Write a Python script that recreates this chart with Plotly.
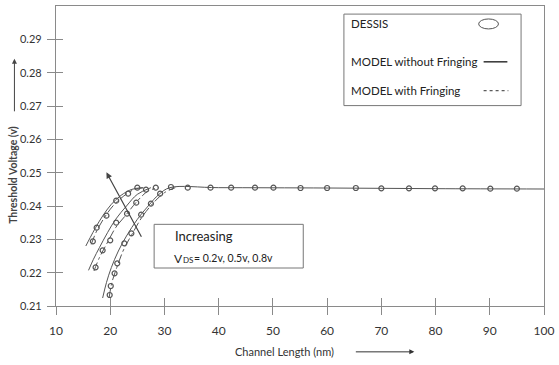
import plotly.graph_objects as go

# ---------------- data ----------------
# Curve group A (leftmost)
LA_model = [15.5, 16.3, 17.3, 18.6, 20.2, 22.0, 24.0, 26.0]
VA_model = [0.2280, 0.2305, 0.2335, 0.2370, 0.2405, 0.2432, 0.2450, 0.2455]
LA_fring = [16.5, 17.5, 18.8, 20.5, 22.5, 24.5, 26.5]
VA_fring = [0.2285, 0.2325, 0.2362, 0.2400, 0.2430, 0.2450, 0.2455]
LA_dessis = [16.8, 17.5, 19.3, 21.1, 23.3, 25.0]
VA_dessis = [0.2294, 0.2335, 0.2371, 0.2416, 0.2437, 0.2455]

# Curve group B (middle)
LB_model = [16.0, 16.9, 18.0, 19.5, 21.0, 23.0, 25.0, 27.5]
VB_model = [0.2207, 0.2240, 0.2275, 0.2320, 0.2360, 0.2400, 0.2435, 0.2455]
LB_fring = [17.0, 18.0, 19.3, 21.0, 23.0, 25.0, 27.0, 29.0]
VB_fring = [0.2205, 0.2245, 0.2285, 0.2335, 0.2375, 0.2415, 0.2445, 0.2455]
LB_dessis = [17.3, 18.6, 20.0, 21.1, 23.1, 24.8, 26.6, 28.4]
VB_dessis = [0.2216, 0.2267, 0.2297, 0.2350, 0.2377, 0.2410, 0.2449, 0.2455]

# Curve group C (rightmost) + long-channel plateau
LC_model = [18.6, 19.3, 20.2, 21.5, 23.0, 25.0, 27.0, 29.0, 31.0, 40.0, 60.0, 80.0, 100.0]
VC_model = [0.2124, 0.2170, 0.2215, 0.2265, 0.2310, 0.2360, 0.2400, 0.2435, 0.2455,
            0.2455, 0.2454, 0.2452, 0.2451]
LC_fring = [19.8, 20.3, 21.2, 22.5, 24.0, 26.0, 28.0, 30.0, 32.0]
VC_fring = [0.2125, 0.2170, 0.2215, 0.2270, 0.2315, 0.2370, 0.2410, 0.2440, 0.2455]
LC_dessis = [19.9, 20.1, 20.8, 21.3, 22.6, 23.9, 25.7, 27.5, 29.2, 31.2,
             34.3, 38.5, 42.3, 46.7, 50.1, 55.1, 60.0, 65.3, 70.0, 75.1, 79.9, 85.0, 90.1, 95.0]
VC_dessis = [0.2133, 0.2160, 0.2198, 0.2228, 0.2288, 0.2318, 0.2374, 0.2407, 0.2437, 0.2457,
             0.2455, 0.2455, 0.2455, 0.2455, 0.2455, 0.2454, 0.2454, 0.2454, 0.2453, 0.2453,
             0.2453, 0.2453, 0.2452, 0.2452]

x_ticks = [10, 20, 30, 40, 50, 60, 70, 80, 90, 100]
y_ticks = [0.21, 0.22, 0.23, 0.24, 0.25, 0.26, 0.27, 0.28, 0.29]

LINE = "#555555"
AX = "#8a8a8a"
TXT = "#333333"
FONT = "Lato"

fig = go.Figure()

def model(x, y):
    fig.add_trace(go.Scatter(x=x, y=y, mode="lines", line=dict(color=LINE, width=1, shape="spline"),
                             showlegend=False, hoverinfo="skip"))

def fring(x, y):
    fig.add_trace(go.Scatter(x=x, y=y, mode="lines", line=dict(color=LINE, width=1, dash="dashdot", shape="spline"),
                             showlegend=False, hoverinfo="skip"))

def dessis(x, y):
    fig.add_trace(go.Scatter(x=x, y=y, mode="markers",
                             marker=dict(symbol="circle-open", size=5, color="#555555", line=dict(width=1.2)),
                             showlegend=False))

for m, f, d in [((LA_model, VA_model), (LA_fring, VA_fring), (LA_dessis, VA_dessis)),
                ((LB_model, VB_model), (LB_fring, VB_fring), (LB_dessis, VB_dessis)),
                ((LC_model, VC_model), (LC_fring, VC_fring), (LC_dessis, VC_dessis))]:
    model(*m)
    fring(*f)
    dessis(*d)

# invisible trace on overlay axes so they render
fig.add_trace(go.Scatter(x=[None], y=[None], xaxis="x2", yaxis="y2", showlegend=False))

XR = [10, 100]
fig.update_layout(
    width=559, height=365,
    margin=dict(l=56, r=10, t=5, b=59),
    paper_bgcolor="white", plot_bgcolor="white",
    font=dict(family=FONT, color=TXT, size=12),
    xaxis=dict(range=XR, tickvals=x_ticks, ticks="outside", ticklen=8, tickcolor=AX,
               showline=True, linecolor=AX, linewidth=1.2, mirror=True, showgrid=False,
               zeroline=False, ticklabelstandoff=5, ticklabeloverflow="allow",
               tickfont=dict(size=12, color=TXT, family=FONT)),
    yaxis=dict(range=[0.21, 0.30], tickvals=y_ticks, tickformat=".2f", ticks="outside", ticklen=8,
               tickcolor=AX, showline=True, linecolor=AX, linewidth=1.2, mirror=True,
               showgrid=False, zeroline=False, ticklabelstandoff=3,
               tickfont=dict(size=11, color=TXT, family=FONT)),
    xaxis2=dict(range=XR, tickvals=x_ticks, ticks="inside", ticklen=8, tickcolor=AX,
                showticklabels=False, overlaying="x", showgrid=False, zeroline=False),
    yaxis2=dict(range=[0.21, 0.30], tickvals=y_ticks, ticks="inside", ticklen=7, tickcolor=AX,
                showticklabels=False, overlaying="y", showgrid=False, zeroline=False),
)

shapes = []
annotations = []

# "Increasing" box
shapes.append(dict(type="rect", xref="x", yref="y", x0=28.1, x1=55.6, y0=0.2214, y1=0.2345,
                   line=dict(color="#777777", width=1), fillcolor="white", layer="above"))
annotations.append(dict(xref="x", yref="y", x=31.6, y=0.2310, text="Increasing",
                        showarrow=False, xanchor="left", yanchor="middle",
                        font=dict(size=13, color="#222222", family=FONT)))
annotations.append(dict(xref="x", yref="y", x=31.6, y=0.22435, text="V", borderpad=0,
                        showarrow=False, xanchor="left", yanchor="middle",
                        font=dict(size=12, color="#222222", family=FONT)))
annotations.append(dict(xref="x", yref="y", x=33.2, y=0.2239, text="DS", borderpad=0,
                        showarrow=False, xanchor="left", yanchor="middle",
                        font=dict(size=8, color="#222222", family=FONT)))
annotations.append(dict(xref="x", yref="y", x=35.2, y=0.22435, text="= 0.2v, 0.5v, 0.8v", borderpad=0,
                        showarrow=False, xanchor="left", yanchor="middle",
                        font=dict(size=10.5, color="#222222", family=FONT)))
# arrow across curves
annotations.append(dict(xref="x", yref="y", axref="x", ayref="y", x=19.3, y=0.2501, ax=25.9, ay=0.2303,
                        text="", showarrow=True, arrowhead=2, arrowsize=1, arrowwidth=1.2,
                        arrowcolor="#444444"))

# Legend box (paper coords)
shapes.append(dict(type="rect", xref="paper", yref="paper", x0=0.590, x1=0.953, y0=0.668, y1=0.973,
                   line=dict(color="#777777", width=1), fillcolor="white", layer="above"))
def px2paper(px, py):
    return (px - 56) / 493, (306 - py) / 301
lx, _ = px2paper(352, 0)
for txt, py in [("DESSIS", 23), ("MODEL without Fringing", 61), ("MODEL with Fringing", 90)]:
    _, ly = px2paper(0, py)
    annotations.append(dict(xref="paper", yref="paper", x=lx, y=ly, text=txt, showarrow=False,
                            xanchor="left", yanchor="middle",
                            font=dict(size=11.5, color="#222222", family=FONT)))
ex0, ey0 = px2paper(483, 28)
ex1, ey1 = px2paper(503, 18)
shapes.append(dict(type="circle", xref="paper", yref="paper", x0=ex0, x1=ex1, y0=ey0, y1=ey1,
                   line=dict(color="#555555", width=1), layer="above"))
sx0, sy = px2paper(488, 61)
sx1, _ = px2paper(512, 61)
shapes.append(dict(type="line", xref="paper", yref="paper", x0=sx0, x1=sx1, y0=sy, y1=sy,
                   line=dict(color="#333333", width=1.5), layer="above"))
dx0, dy = px2paper(488, 90)
dx1, _ = px2paper(513, 90)
shapes.append(dict(type="line", xref="paper", yref="paper", x0=dx0, x1=dx1, y0=dy, y1=dy,
                   line=dict(color="#333333", width=1, dash="3px,3px"), layer="above"))

# Axis titles with arrows
tx, ty = px2paper(287, 352)
annotations.append(dict(xref="paper", yref="paper", x=tx, y=ty, text="Channel Length (nm)",
                        xanchor="center", yanchor="middle", showarrow=False,
                        font=dict(size=11, color="#333333", family=FONT)))
ax_, ay_ = px2paper(418, 352)
annotations.append(dict(xref="paper", yref="paper", x=ax_, y=ay_, ax=-60, ay=0, text="",
                        showarrow=True, arrowhead=2, arrowsize=1, arrowwidth=1, arrowcolor="#333333"))
yx, yy = px2paper(13, 174)
annotations.append(dict(xref="paper", yref="paper", x=yx, y=yy, text="<b>Threshold Voltage (v)</b>",
                        xanchor="center", yanchor="middle",
                        textangle=-90, showarrow=False, font=dict(size=10.5, color="#444444", family=FONT)))
yax, yay = px2paper(14, 58)
annotations.append(dict(xref="paper", yref="paper", x=yax, y=yay, ax=0, ay=54, text="",
                        showarrow=True, arrowhead=2, arrowsize=1, arrowwidth=1, arrowcolor="#444444"))

fig.update_layout(shapes=shapes, annotations=annotations)
fig.write_html("out.html")
